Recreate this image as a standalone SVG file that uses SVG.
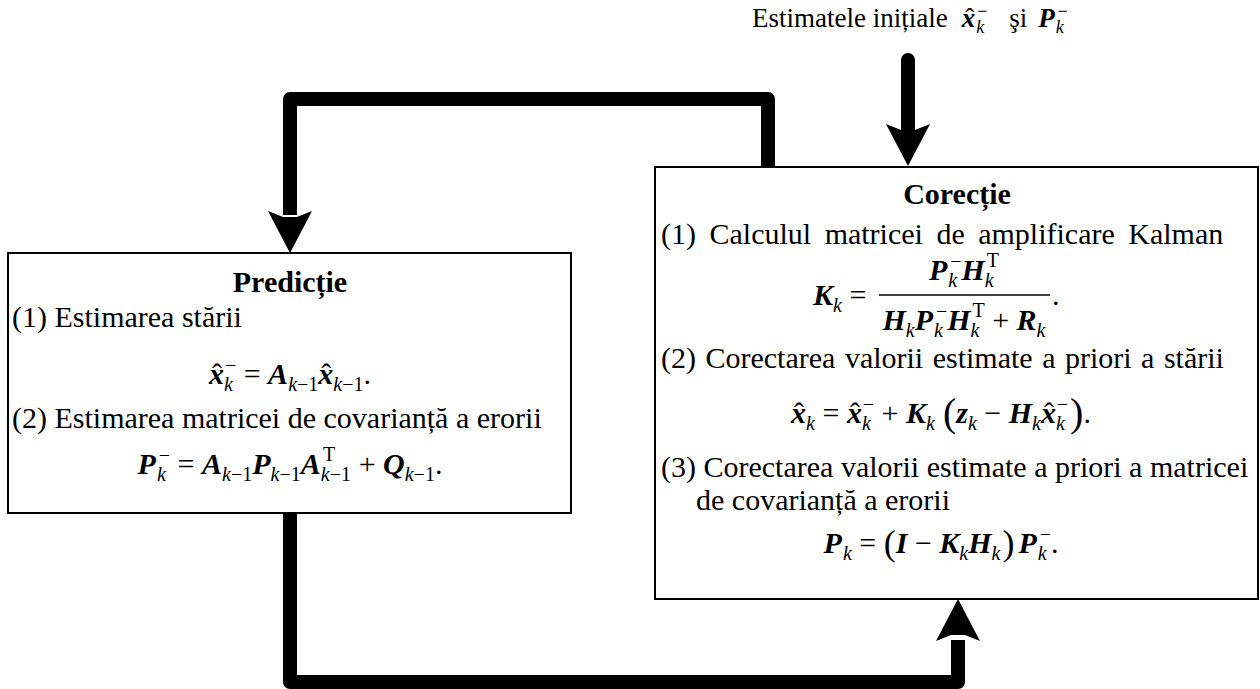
<svg xmlns="http://www.w3.org/2000/svg" width="1260" height="689" viewBox="0 0 1260 689">
<style>
text{font-family:"Liberation Serif","Times New Roman",serif;fill:#000;font-size:30px}
.hd{font-weight:bold}
.bi{font-weight:bold;font-style:italic}
.i{font-style:italic;font-weight:normal}
.s{font-size:20px}
.s2{font-size:18px}
.h{font-weight:normal;font-style:normal}
.p{font-size:40px;font-weight:normal}
.p2{font-size:36px;font-weight:normal}
.box{fill:#fff;stroke:#000;stroke-width:2}
.conn{fill:none;stroke:#000;stroke-width:14;stroke-linejoin:round}
.fl{stroke:#000;stroke-width:1.6}
</style>
<defs>
<path id="ah" d="M0,0 L-22,-42 L-7,-36 L7,-36 L22,-42 Z" fill="#000"/>
</defs>

<g id="input-label">
<text x="752" y="27" style="font-size:27px">Estimatele inițiale<tspan class="bi" dx="14">x</tspan><tspan class="h" dx="-10">ˆ</tspan><tspan class="s2 i" dx="2" dy="6">k</tspan><tspan class="s2" dx="-7" dy="-16">−</tspan><tspan dx="22" dy="10">şi</tspan><tspan class="bi" dx="11">P</tspan><tspan class="s2 i" dx="1" dy="6">k</tspan><tspan class="s2" dx="-6" dy="-16">−</tspan></text>
</g>

<g id="predictie">
<rect class="box" x="8" y="253" width="563" height="260"/>
<text class="hd" x="290" y="292" text-anchor="middle">Predicție</text>
<text x="12" y="327">(1) Estimarea stării</text>
<text x="290" y="384" text-anchor="middle"><tspan class="bi">x</tspan><tspan class="h" dx="-12">ˆ</tspan><tspan class="s i" dx="2" dy="7">k</tspan><tspan class="s" dx="-8" dy="-19">−</tspan><tspan dy="12"> = </tspan><tspan class="bi">A</tspan><tspan class="s" dy="7"><tspan class="i">k</tspan>−1</tspan><tspan class="bi" dy="-7">x</tspan><tspan class="h" dx="-12">ˆ</tspan><tspan class="s" dx="2" dy="7"><tspan class="i">k</tspan>−1</tspan><tspan dy="-7">.</tspan></text>
<text x="12" y="428">(2) Estimarea matricei de covarianță a erorii</text>
<text x="290" y="474" text-anchor="middle"><tspan class="bi">P</tspan><tspan class="s i" dx="1" dy="7">k</tspan><tspan class="s" dx="-7" dy="-19">−</tspan><tspan dy="12"> = </tspan><tspan class="bi">A</tspan><tspan class="s" dy="7"><tspan class="i">k</tspan>−1</tspan><tspan class="bi" dy="-7">P</tspan><tspan class="s" dy="7"><tspan class="i">k</tspan>−1</tspan><tspan class="bi" dy="-7">A</tspan><tspan class="s" dy="7"><tspan class="i">k</tspan>−1</tspan><tspan class="s" dx="-28" dy="-20">T</tspan><tspan dx="16" dy="13"> + </tspan><tspan class="bi">Q</tspan><tspan class="s" dy="7"><tspan class="i">k</tspan>−1</tspan><tspan dy="-7">.</tspan></text>
</g>

<g id="corectie">
<rect class="box" x="655" y="167" width="603" height="432"/>
<text class="hd" x="957" y="204" text-anchor="middle">Corecție</text>
<text x="661" y="244" style="word-spacing:6px">(1) Calculul matricei de amplificare Kalman</text>
<text x="813" y="305"><tspan class="bi">K</tspan><tspan class="s i" dy="7">k</tspan><tspan dy="-7"> = </tspan></text>
<line class="fl" x1="879" y1="295" x2="1050" y2="295"/>
<text x="964" y="280" text-anchor="middle"><tspan class="bi">P</tspan><tspan class="s i" dx="1" dy="7">k</tspan><tspan class="s" dx="-7" dy="-19">−</tspan><tspan class="bi" dy="12">H</tspan><tspan class="s i" dy="7">k</tspan><tspan class="s" dx="-7" dy="-20">T</tspan></text>
<text x="964" y="330" text-anchor="middle"><tspan class="bi">H</tspan><tspan class="s i" dy="7">k</tspan><tspan class="bi" dy="-7">P</tspan><tspan class="s i" dx="1" dy="7">k</tspan><tspan class="s" dx="-7" dy="-19">−</tspan><tspan class="bi" dy="12">H</tspan><tspan class="s i" dy="7">k</tspan><tspan class="s" dx="-7" dy="-20">T</tspan><tspan dy="13"> + </tspan><tspan class="bi">R</tspan><tspan class="s i" dy="7">k</tspan></text>
<text x="1052" y="305">.</text>
<text x="661" y="368" style="word-spacing:2px">(2) Corectarea valorii estimate a priori a stării</text>
<text x="941" y="423" text-anchor="middle"><tspan class="bi">x</tspan><tspan class="h" dx="-12">ˆ</tspan><tspan class="s i" dx="2" dy="7">k</tspan><tspan dy="-7"> = </tspan><tspan class="bi">x</tspan><tspan class="h" dx="-12">ˆ</tspan><tspan class="s i" dx="2" dy="7">k</tspan><tspan class="s" dx="-8" dy="-19">−</tspan><tspan dy="12"> + </tspan><tspan class="bi">K</tspan><tspan class="s i" dy="7">k</tspan><tspan class="p" dx="8" dy="-4">(</tspan><tspan class="bi" dy="-3">z</tspan><tspan class="s i" dy="7">k</tspan><tspan dy="-7"> − </tspan><tspan class="bi">H</tspan><tspan class="s i" dy="7">k</tspan><tspan class="bi" dy="-7">x</tspan><tspan class="h" dx="-12">ˆ</tspan><tspan class="s i" dx="2" dy="7">k</tspan><tspan class="s" dx="-8" dy="-19">−</tspan><tspan class="p" dx="2" dy="15">)</tspan><tspan dy="-3">.</tspan></text>
<text x="661" y="477">(3) Corectarea valorii estimate a priori a matricei</text>
<text x="696" y="510">de covarianță a erorii</text>
<text x="941" y="553" text-anchor="middle"><tspan class="bi">P</tspan><tspan class="s i" dx="1" dy="7">k</tspan><tspan dy="-7"> = </tspan><tspan class="p2" dy="2">(</tspan><tspan class="bi" dy="-2">I</tspan><tspan> − </tspan><tspan class="bi">K</tspan><tspan class="s i" dy="7">k</tspan><tspan class="bi" dy="-7">H</tspan><tspan class="s i" dy="7">k</tspan><tspan class="p2" dx="2" dy="-5">)</tspan><tspan class="bi" dx="4" dy="-2">P</tspan><tspan class="s i" dx="1" dy="7">k</tspan><tspan class="s" dx="-7" dy="-19">−</tspan><tspan dy="12">.</tspan></text>
</g>

<g id="connectors">
<path class="conn" d="M908,60 V130" stroke-linecap="round"/>
<use href="#ah" transform="translate(908,166)"/>
<path class="conn" d="M768,168 V99 H290 V215"/>
<use href="#ah" transform="translate(290,253)"/>
<path class="conn" d="M290,512 V682 H958 V640"/>
<use href="#ah" transform="translate(958,599) rotate(180)"/>
</g>
</svg>
